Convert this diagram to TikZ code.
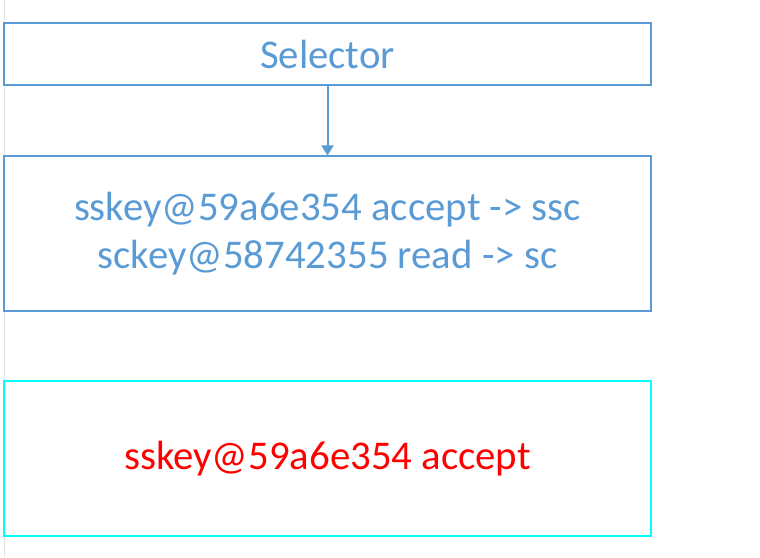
\documentclass[tikz,border=0pt]{standalone}
\usepackage{fontspec}
\setmainfont{Carlito}
\usetikzlibrary{arrows.meta}
\definecolor{boxblue}{HTML}{5B9BD5}
\definecolor{boxcyan}{HTML}{00FFFF}
\definecolor{txtred}{HTML}{FF0000}
\definecolor{edgegray}{HTML}{E2E2E2}
\tikzset{
  panel/.style={draw=boxblue, line width=0.8pt, rectangle, minimum width=485.25pt, inner sep=0pt, align=center, text=boxblue, font=\fontsize{30.6}{36.5}\selectfont},
  flow/.style={draw=boxblue, line width=1.5pt, -{Triangle[length=7.5pt,width=9pt]}}
}
\begin{document}
\begin{tikzpicture}[x=0.75pt,y=-0.75pt]
\useasboundingbox (0,0) rectangle (760,557);
\draw[edgegray, line width=0.6pt] (4.5,0) coordinate (gt) -- (4.5,557) coordinate (gb);
\node[panel, minimum height=46.5pt] (sel) at (327.5,54) {Selector};
\node[panel, minimum height=116.25pt] (keys) at (327.5,233.5) {sskey@59a6e354 accept -> ssc\\sckey@58742355 read -> sc};
\node[panel, draw=boxcyan, text=txtred, minimum height=116.25pt] (sel2) at (327.5,458.5) {sskey@59a6e354 accept};
\draw[flow] (sel.south) -- (keys.north);
\end{tikzpicture}
\end{document}
